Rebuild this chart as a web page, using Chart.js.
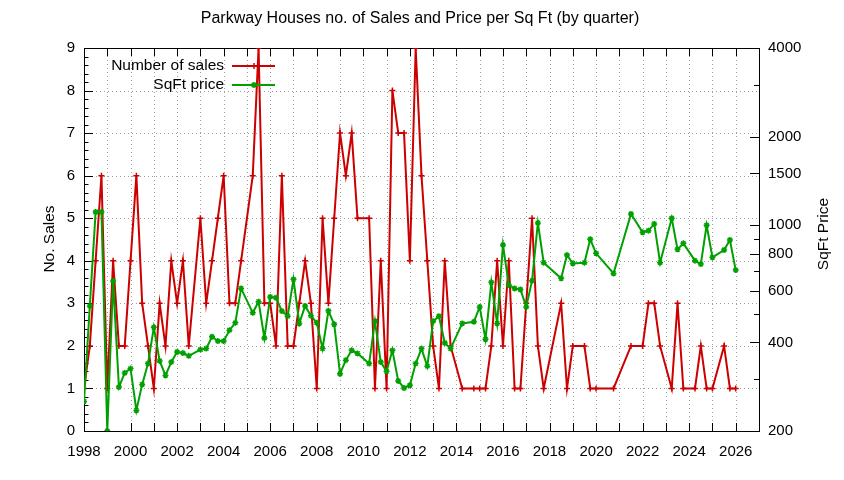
<!DOCTYPE html>
<html>
<head>
<meta charset="utf-8">
<script src="https://cdn.jsdelivr.net/npm/chart.js@4/dist/chart.umd.min.js"></script>
<style>
  html, body { margin: 0; padding: 0; background: #fff; }
  canvas { display: block; }
</style>
</head>
<body>
<canvas id="c" width="844" height="480"></canvas>
<script>
// ---- data (quarter start as decimal year) ----
const quarters = [
  1998.00,1998.25,1998.50,1998.75,1999.00,1999.25,1999.50,1999.75,
  2000.00,2000.25,2000.50,2000.75,2001.00,2001.25,2001.50,2001.75,
  2002.00,2002.25,2002.50,2003.00,2003.25,2003.50,2003.75,
  2004.00,2004.25,2004.50,2004.75,2005.25,2005.50,2005.75,
  2006.00,2006.25,2006.50,2006.75,2007.00,2007.25,2007.50,2007.75,
  2008.00,2008.25,2008.50,2008.75,2009.00,2009.25,2009.50,2009.75,
  2010.25,2010.50,2010.75,2011.00,2011.25,2011.50,2011.75,
  2012.00,2012.25,2012.50,2012.75,2013.00,2013.25,2013.50,2013.75,
  2014.25,2014.75,2015.00,2015.25,2015.50,2015.75,
  2016.00,2016.25,2016.50,2016.75,2017.00,2017.25,2017.50,2017.75,
  2018.50,2018.75,2019.00,2019.50,2019.75,2020.00,2020.75,2021.50,
  2022.00,2022.25,2022.50,2022.75,2023.25,2023.50,2023.75,
  2024.25,2024.50,2024.75,2025.00,2025.50,2025.75,2026.00
];
const salesCount = [
  1,2,4,6,1,4,2,2,
  4,6,3,2,1,3,2,4,
  3,4,2,5,3,4,5,
  6,3,3,4,6,9,3,
  3,2,6,2,2,3,4,3,
  1,5,3,5,7,6,7,5,
  5,1,4,1,8,7,7,
  4,9,6,4,2,1,4,2,
  1,1,1,1,2,4,
  2,4,1,1,3,5,2,1,
  3,1,2,2,1,1,1,2,
  2,3,3,2,1,3,1,
  1,2,1,1,2,1,1
];
const sqftPrice = [
  252,532,1109,1109,200,647,282,315,
  326,235,288,339,450,346,309,343,
  371,368,360,378,381,418,404,
  404,440,466,610,504,550,414,
  571,567,511,491,655,464,532,493,
  466,381,512,461,313,348,376,367,
  339,472,343,319,376,296,280,
  286,339,381,332,472,491,398,381,
  464,470,528,410,640,464,
  857,627,610,605,528,648,1018,746,
  660,792,742,746,896,803,686,1092,
  946,958,1010,746,1056,828,868,
  758,738,1000,778,824,891,704
];
const seriesNames = ['Number of sales', 'SqFt price'];
const xLabelYears = [1998,2000,2002,2004,2006,2008,2010,2012,2014,2016,2018,2020,2022,2024,2026];
const leftTicks = [0,1,2,3,4,5,6,7,8,9];
const rightTicks = [200,400,600,800,1000,1500,2000,4000];
const rightMinorTicks = [300,500,700,900,3000];
const titleText = 'Parkway Houses no. of Sales and Price per Sq Ft (by quarter)';
const leftTitle = 'No. Sales';
const rightTitle = 'SqFt Price';

const RED = '#cc0000';
const GREEN = '#00a000';
const FAMILY = '"Liberation Sans", Arial, sans-serif';

function drawMarker(ctx, style, x, y, r, color) {
  ctx.save();
  ctx.strokeStyle = color;
  ctx.lineWidth = 1.5;
  ctx.setLineDash([]);
  ctx.beginPath();
  ctx.moveTo(x - r, y); ctx.lineTo(x + r, y);
  ctx.moveTo(x, y - r); ctx.lineTo(x, y + r);
  if (style === 'star') {
    const d = r * 0.75;
    ctx.moveTo(x - d, y - d); ctx.lineTo(x + d, y + d);
    ctx.moveTo(x - d, y + d); ctx.lineTo(x + d, y - d);
  }
  ctx.stroke();
  ctx.restore();
}

const decor = {
  id: 'decor',
  beforeDatasetsDraw(chart) {
    const ctx = chart.ctx;
    const a = chart.chartArea;
    const sx = chart.scales.x, sy = chart.scales.y, sy2 = chart.scales.y2;
    ctx.save();
    // dotted grid
    ctx.strokeStyle = '#a0a0a0';
    ctx.lineWidth = 1;
    ctx.setLineDash([1, 3]);
    for (let yr = 1999; yr <= 2026; yr++) {
      const px = Math.round(sx.getPixelForValue(yr)) + 0.5;
      ctx.beginPath(); ctx.moveTo(px, a.top); ctx.lineTo(px, a.bottom); ctx.stroke();
    }
    for (let v = 1; v <= 8; v++) {
      const py = Math.round(sy.getPixelForValue(v)) + 0.5;
      ctx.beginPath(); ctx.moveTo(a.left, py); ctx.lineTo(a.right, py); ctx.stroke();
    }
    ctx.setLineDash([]);
    ctx.strokeStyle = '#000';
    ctx.lineWidth = 1;
    ctx.beginPath();
    for (let yr = 1998; yr <= 2027; yr++) {
      const px = Math.round(sx.getPixelForValue(yr)) + 0.5;
      ctx.moveTo(px, a.bottom); ctx.lineTo(px, a.bottom - 8);
      ctx.moveTo(px, a.top); ctx.lineTo(px, a.top + 8);
    }
    for (let i = 0; i <= 45; i++) {
      const v = i / 5;
      const py = Math.round(sy.getPixelForValue(v)) + 0.5;
      const len = (i % 5 === 0) ? 9 : 4.5;
      ctx.moveTo(a.left, py); ctx.lineTo(a.left + len, py);
    }
    rightTicks.forEach(v => {
      const py = Math.round(sy2.getPixelForValue(v)) + 0.5;
      ctx.moveTo(a.right, py); ctx.lineTo(a.right - 9, py);
    });
    rightMinorTicks.forEach(v => {
      const py = Math.round(sy2.getPixelForValue(v)) + 0.5;
      ctx.moveTo(a.right, py); ctx.lineTo(a.right - 5, py);
    });
    ctx.stroke();
    ctx.strokeRect(Math.round(a.left) + 0.5, Math.round(a.top) + 0.5,
                   Math.round(a.right - a.left), Math.round(a.bottom - a.top));
    ctx.restore();
  },
  afterDraw(chart) {
    const ctx = chart.ctx;
    ctx.save();
    ctx.fillStyle = '#000';
    ctx.textAlign = 'center';
    ctx.textBaseline = 'middle';
    ctx.font = '16px ' + FAMILY;
    ctx.fillText(titleText, 420, 19);
    ctx.font = '15.5px ' + FAMILY;
    ctx.save();
    ctx.translate(50, 239);
    ctx.rotate(-Math.PI / 2);
    ctx.fillText(leftTitle, 0, 0);
    ctx.restore();
    ctx.save();
    ctx.translate(824, 234);
    ctx.rotate(-Math.PI / 2);
    ctx.fillText(rightTitle, 0, 0);
    ctx.restore();
    const rows = [
      { label: seriesNames[0], color: RED, style: 'cross', y: 66 },
      { label: seriesNames[1], color: GREEN, style: 'star', y: 85 }
    ];
    rows.forEach(r => {
      ctx.textAlign = 'right';
      ctx.fillStyle = '#000';
      ctx.fillText(r.label, 224, r.y);
      ctx.strokeStyle = r.color;
      ctx.lineWidth = 2;
      ctx.beginPath(); ctx.moveTo(232, r.y); ctx.lineTo(275, r.y); ctx.stroke();
      drawMarker(ctx, r.style, 254, r.y, 3, r.color);
    });
    ctx.restore();
  }
};

const tickFont = { family: FAMILY, size: 15 };
const ctx = document.getElementById('c').getContext('2d');
new Chart(ctx, {
  type: 'line',
  data: {
    datasets: [
      {
        label: seriesNames[0],
        data: quarters.map((q, i) => ({ x: q, y: salesCount[i] })),
        yAxisID: 'y',
        borderColor: RED,
        backgroundColor: RED,
        borderWidth: 2,
        pointStyle: 'cross',
        pointRadius: 3,
        pointBorderWidth: 1.5,
        pointBorderColor: RED,
        tension: 0,
        order: 2
      },
      {
        label: seriesNames[1],
        data: quarters.map((q, i) => ({ x: q, y: sqftPrice[i] })),
        yAxisID: 'y2',
        borderColor: GREEN,
        backgroundColor: GREEN,
        borderWidth: 2,
        pointStyle: 'star',
        pointRadius: 3,
        pointBorderWidth: 1.5,
        pointBorderColor: GREEN,
        tension: 0,
        order: 1
      }
    ]
  },
  options: {
    responsive: false,
    animation: false,
    devicePixelRatio: 1,
    layout: { padding: { top: 48, left: 0, right: 0, bottom: 0 } },
    plugins: { legend: { display: false }, tooltip: { enabled: false }, title: { display: false } },
    scales: {
      x: {
        type: 'linear', position: 'bottom', min: 1998, max: 2027,
        grid: { display: false, drawTicks: false, tickLength: 0 },
        border: { display: false },
        afterBuildTicks: s => { s.ticks = xLabelYears.map(v => ({ value: v })); },
        ticks: { autoSkip: false, maxRotation: 0, padding: 12, color: '#000', font: tickFont,
                 callback: v => String(v) },
        afterFit: s => { s.height = 49; }
      },
      y: {
        type: 'linear', position: 'left', min: 0, max: 9,
        grid: { display: false, drawTicks: false, tickLength: 0 },
        border: { display: false },
        afterBuildTicks: s => { s.ticks = leftTicks.map(v => ({ value: v })); },
        ticks: { padding: 9, color: '#000', font: tickFont, callback: v => String(v) },
        afterFit: s => { s.width = 84; }
      },
      y2: {
        type: 'logarithmic', position: 'right', min: 200, max: 4000,
        grid: { display: false, drawTicks: false, tickLength: 0 },
        border: { display: false },
        afterBuildTicks: s => { s.ticks = rightTicks.map(v => ({ value: v })); },
        ticks: { padding: 9, color: '#000', font: tickFont, callback: v => String(v) },
        afterFit: s => { s.width = 85; }
      }
    }
  },
  plugins: [decor]
});
</script>
</body>
</html>
